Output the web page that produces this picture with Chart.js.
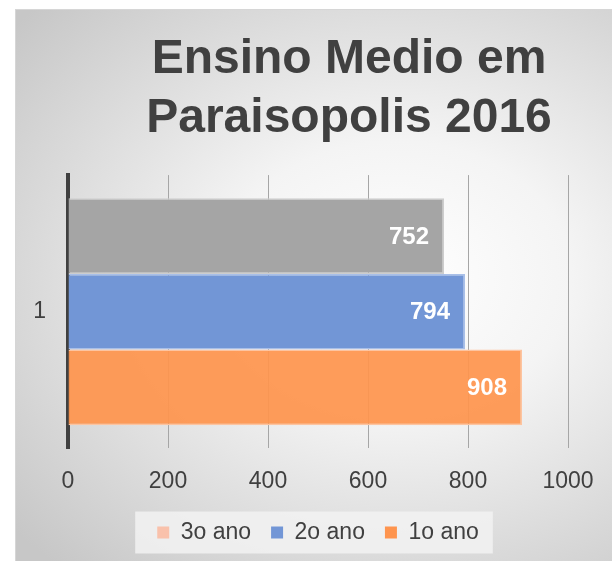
<!DOCTYPE html>
<html>
<head>
<meta charset="utf-8">
<script src="https://cdn.jsdelivr.net/npm/chart.js@4/dist/chart.umd.min.js"></script>
<style>
  html, body { margin: 0; padding: 0; background: #fff; overflow: hidden; }
  #frame {
    position: absolute; left: 15px; top: 9px; width: 670px; height: 560px;
    border: 1px solid #d6d6d6; box-sizing: border-box;
    background: radial-gradient(ellipse 75% 70% at 57% 48%, #ffffff 0%, #f4f4f4 35%, #c7c7c7 100%);
  }
  #frame canvas { position: absolute; left: 0; top: 0; }
</style>
</head>
<body>
<div id="frame"><canvas id="chart" width="670" height="552"></canvas></div>
<script>
const categories = ['1']
const seriesNames = ['3o ano', '2o ano', '1o ano']
const values3 = [752]
const values2 = [794]
const values1 = [908]
const xTicks = [0, 200, 400, 600, 800, 1000]

const barColors = ['rgba(165,165,165,1)', 'rgba(114,150,214,1)', 'rgba(254,148,78,0.93)']
const barBorders = ['#cdcdcd', '#a8bfe8', '#fdc4a0']
const legendColors = ['#f9c1ab', '#7296d6', '#fe944e']
const textColor = '#404040'
const font = '"Liberation Sans", Arial, sans-serif'

// value labels at the end of each bar
const barLabels = {
    id: 'barLabels',
    afterDatasetsDraw(chart) {
        const ctx = chart.ctx
        ctx.save()
        ctx.font = 'bold 24px ' + font
        ctx.fillStyle = '#ffffff'
        ctx.textAlign = 'right'
        ctx.textBaseline = 'middle'
        chart.data.datasets.forEach((ds, i) => {
            chart.getDatasetMeta(i).data.forEach((bar, j) => {
                ctx.fillText(String(ds.data[j]), bar.x - 15, bar.y + 1)
            })
        })
        ctx.restore()
    }
}

// light box behind the legend
const legendBox = {
    id: 'legendBox',
    beforeDraw(chart) {
        const boxes = chart.legend && chart.legend.legendHitBoxes
        if (!boxes || !boxes.length) return
        const left = Math.min(...boxes.map(b => b.left)) - 22
        const right = Math.max(...boxes.map(b => b.left + b.width)) + 14
        const cy = boxes[0].top + boxes[0].height / 2
        const ctx = chart.ctx
        ctx.save()
        ctx.fillStyle = 'rgba(242,242,242,0.85)'
        ctx.fillRect(left, cy - 21, right - left, 42)
        ctx.restore()
    }
}

const datasets = [values3, values2, values1].map((vals, i) => ({
    label: seriesNames[i],
    data: vals,
    backgroundColor: barColors[i],
    borderColor: barBorders[i],
    borderWidth: 1.5,
    categoryPercentage: 0.83,
    barPercentage: 1
}))

new Chart(document.getElementById('chart'), {
    type: 'bar',
    data: { labels: categories, datasets },
    plugins: [barLabels, legendBox],
    options: {
        indexAxis: 'y',
        responsive: false,
        animation: false,
        layout: { padding: { left: 0, right: 4, top: 0, bottom: 8 } },
        scales: {
            x: {
                min: 0, max: 1000,
                afterBuildTicks(scale) { scale.ticks = xTicks.map(v => ({ value: v })) },
                afterFit(scale) {
                    scale.paddingRight = 118
                    scale.height -= 13
                },
                grid: { color: '#a6a6a6', lineWidth: 1, drawTicks: false },
                border: { display: false },
                ticks: {
                    color: textColor, font: { family: font, size: 23 }, padding: 19,
                    callback: v => String(v)
                }
            },
            y: {
                afterFit(scale) { scale.width = 52 },
                grid: { display: false, drawTicks: false },
                border: { display: true, color: '#404040', width: 4 },
                ticks: { color: textColor, font: { family: font, size: 23 }, padding: 22 }
            }
        },
        plugins: {
            title: {
                display: true,
                text: ['Ensino Medio em', 'Paraisopolis 2016'],
                color: textColor,
                font: { family: font, size: 48, weight: 'bold', lineHeight: 1.23 },
                padding: { top: 20, bottom: 27 }
            },
            legend: {
                position: 'bottom',
                fullSize: false,
                labels: {
                    color: textColor,
                    font: { family: font, size: 23 },
                    boxWidth: 12,
                    boxHeight: 12,
                    padding: 20,
                    generateLabels: chart => chart.data.datasets.map((ds, i) => ({
                        text: ds.label,
                        fillStyle: legendColors[i],
                        strokeStyle: legendColors[i],
                        lineWidth: 0,
                        fontColor: textColor,
                        datasetIndex: i
                    }))
                }
            },
            tooltip: { enabled: false }
        }
    }
})
</script>
</body>
</html>
